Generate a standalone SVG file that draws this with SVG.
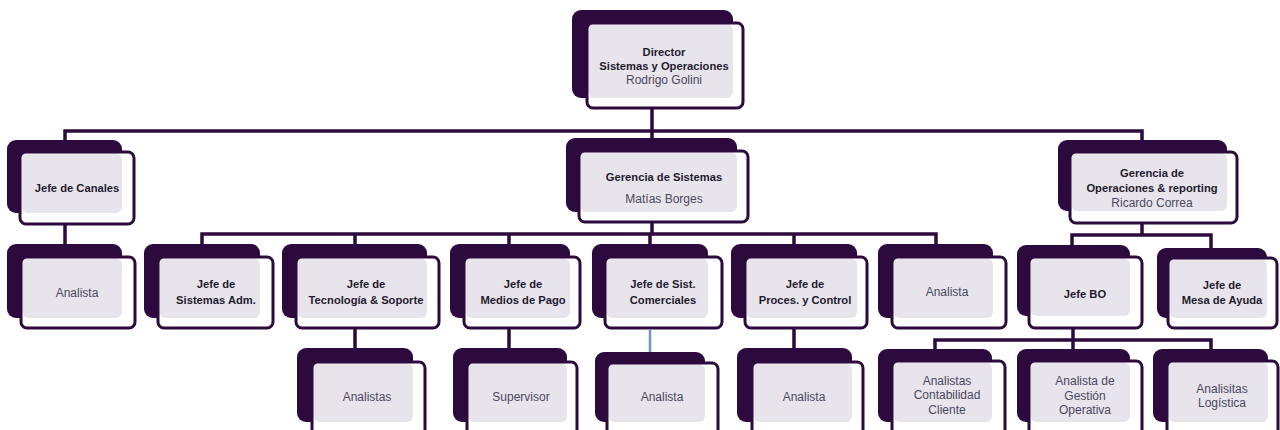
<svg xmlns="http://www.w3.org/2000/svg" width="1280" height="430" viewBox="0 0 1280 430">
<style>
.bk{fill:#2C0A3E}
.fw{fill:#FFFFFF}
.lt{fill:#E8E4EC}
.fs{fill:none;stroke:#2C0A3E;stroke-width:3}
.cn{fill:none;stroke:#2C0A3E;stroke-width:3.5}
.cb{fill:none;stroke:#7395C2;stroke-width:2.5}
text{font-family:"Liberation Sans",Arial,sans-serif;text-anchor:middle}
.b{font-weight:bold;fill:#1E1B2E;font-size:11.2px}
.n{fill:#4A4860;font-size:12px}
</style>
<rect width="1280" height="430" fill="#FFFFFF"/>
<g id="connectors">
<path class="cn" d="M652 108 V131"/>
<path class="cn" d="M65 141 V131 H1142 V141"/>
<path class="cn" d="M652 131 V139"/>
<path class="cn" d="M65 224 V245"/>
<path class="cn" d="M652 222 V234"/>
<path class="cn" d="M202 245 V234 H936 V245"/>
<path class="cn" d="M355 234 V245"/>
<path class="cn" d="M509 234 V245"/>
<path class="cn" d="M650 234 V245"/>
<path class="cn" d="M794 234 V245"/>
<path class="cn" d="M355 328 V349"/>
<path class="cn" d="M509 328 V349"/>
<path class="cb" d="M650 330 V352"/>
<path class="cn" d="M794 328 V349"/>
<path class="cn" d="M1142 223 V235"/>
<path class="cn" d="M1072 246 V235 H1211 V249"/>
<path class="cn" d="M1073 328 V340"/>
<path class="cn" d="M935 350 V340 H1211 V350"/>
<path class="cn" d="M1073 340 V349"/>
</g>
<g id="director">
<rect class="bk" x="572" y="10" width="161" height="88" rx="9"/>
<rect class="fw" x="587" y="23" width="156" height="85" rx="6"/>
<rect class="lt" x="588.5" y="24.5" width="144.5" height="73.5" rx="6"/>
<rect class="fs" x="587" y="23" width="156" height="85" rx="6"/>
<text class="b" x="664" y="56">Director</text>
<text class="b" x="664" y="69.5">Sistemas y Operaciones</text>
<text class="n" x="664" y="84">Rodrigo Golini</text>
</g>
<g id="jefe-canales">
<rect class="bk" x="7" y="140" width="115" height="73" rx="9"/>
<rect class="fw" x="20" y="152" width="114" height="72" rx="6"/>
<rect class="lt" x="21.5" y="153.5" width="100.5" height="59.5" rx="6"/>
<rect class="fs" x="20" y="152" width="114" height="72" rx="6"/>
<text class="b" x="77" y="192">Jefe de Canales</text>
</g>
<g id="gerencia-sistemas">
<rect class="bk" x="566" y="138" width="171" height="74" rx="9"/>
<rect class="fw" x="579" y="151" width="169" height="71" rx="6"/>
<rect class="lt" x="580.5" y="152.5" width="156.5" height="59.5" rx="6"/>
<rect class="fs" x="579" y="151" width="169" height="71" rx="6"/>
<text class="b" x="664" y="181">Gerencia de Sistemas</text>
<text class="n" x="664" y="203">Matías Borges</text>
</g>
<g id="gerencia-operaciones">
<rect class="bk" x="1058" y="140" width="169" height="71" rx="9"/>
<rect class="fw" x="1070" y="152" width="167" height="71" rx="6"/>
<rect class="lt" x="1071.5" y="153.5" width="155.5" height="57.5" rx="6"/>
<rect class="fs" x="1070" y="152" width="167" height="71" rx="6"/>
<text class="b" x="1152" y="177">Gerencia de</text>
<text class="b" x="1152" y="192">Operaciones &amp; reporting</text>
<text class="n" x="1152" y="207">Ricardo Correa</text>
</g>
<g id="analista-canales">
<rect class="bk" x="7" y="244" width="115" height="74" rx="9"/>
<rect class="fw" x="21" y="257" width="114" height="71" rx="6"/>
<rect class="lt" x="22.5" y="258.5" width="99.5" height="59.5" rx="6"/>
<rect class="fs" x="21" y="257" width="114" height="71" rx="6"/>
<text class="n" x="77" y="297">Analista</text>
</g>
<g id="jefe-sistemas-adm">
<rect class="bk" x="144" y="244" width="116" height="74" rx="9"/>
<rect class="fw" x="158" y="257" width="115" height="71" rx="6"/>
<rect class="lt" x="159.5" y="258.5" width="100.5" height="59.5" rx="6"/>
<rect class="fs" x="158" y="257" width="115" height="71" rx="6"/>
<text class="b" x="216" y="288">Jefe de</text>
<text class="b" x="216" y="303.5">Sistemas Adm.</text>
</g>
<g id="jefe-tecnologia">
<rect class="bk" x="282" y="244" width="145" height="74" rx="9"/>
<rect class="fw" x="296" y="257" width="143" height="71" rx="6"/>
<rect class="lt" x="297.5" y="258.5" width="129.5" height="59.5" rx="6"/>
<rect class="fs" x="296" y="257" width="143" height="71" rx="6"/>
<text class="b" x="366" y="288">Jefe de</text>
<text class="b" x="366" y="303.5">Tecnología &amp; Soporte</text>
</g>
<g id="jefe-medios-pago">
<rect class="bk" x="450" y="244" width="120" height="74" rx="9"/>
<rect class="fw" x="464" y="257" width="116" height="71" rx="6"/>
<rect class="lt" x="465.5" y="258.5" width="104.5" height="59.5" rx="6"/>
<rect class="fs" x="464" y="257" width="116" height="71" rx="6"/>
<text class="b" x="523" y="288">Jefe de</text>
<text class="b" x="523" y="303.5">Medios de Pago</text>
</g>
<g id="jefe-sist-comerciales">
<rect class="bk" x="592" y="244" width="116" height="74" rx="9"/>
<rect class="fw" x="605" y="257" width="117" height="71" rx="6"/>
<rect class="lt" x="606.5" y="258.5" width="101.5" height="59.5" rx="6"/>
<rect class="fs" x="605" y="257" width="117" height="71" rx="6"/>
<text class="b" x="663" y="288">Jefe de Sist.</text>
<text class="b" x="663" y="303.5">Comerciales</text>
</g>
<g id="jefe-proces-control">
<rect class="bk" x="731" y="244" width="126" height="74" rx="9"/>
<rect class="fw" x="745" y="257" width="122" height="71" rx="6"/>
<rect class="lt" x="746.5" y="258.5" width="110.5" height="59.5" rx="6"/>
<rect class="fs" x="745" y="257" width="122" height="71" rx="6"/>
<text class="b" x="805" y="288">Jefe de</text>
<text class="b" x="805" y="303.5">Proces. y Control</text>
</g>
<g id="analista-sistemas">
<rect class="bk" x="878" y="244" width="115" height="74" rx="9"/>
<rect class="fw" x="892" y="257" width="114" height="71" rx="6"/>
<rect class="lt" x="893.5" y="258.5" width="99.5" height="59.5" rx="6"/>
<rect class="fs" x="892" y="257" width="114" height="71" rx="6"/>
<text class="n" x="947" y="296">Analista</text>
</g>
<g id="jefe-bo">
<rect class="bk" x="1017" y="245" width="113" height="71" rx="9"/>
<rect class="fw" x="1029" y="257" width="113" height="71" rx="6"/>
<rect class="lt" x="1030.5" y="258.5" width="99.5" height="57.5" rx="6"/>
<rect class="fs" x="1029" y="257" width="113" height="71" rx="6"/>
<text class="b" x="1085" y="298">Jefe BO</text>
</g>
<g id="jefe-mesa-ayuda">
<rect class="bk" x="1157" y="248" width="110" height="70" rx="9"/>
<rect class="fw" x="1168" y="258" width="109" height="70" rx="6"/>
<rect class="lt" x="1169.5" y="259.5" width="97.5" height="58.5" rx="6"/>
<rect class="fs" x="1168" y="258" width="109" height="70" rx="6"/>
<text class="b" x="1222" y="289">Jefe de</text>
<text class="b" x="1222" y="304">Mesa de Ayuda</text>
</g>
<g id="analistas-tecnologia">
<rect class="bk" x="297" y="348" width="116" height="74" rx="9"/>
<rect class="fw" x="312" y="362" width="113" height="76" rx="6"/>
<rect class="lt" x="313.5" y="363.5" width="99.5" height="58.5" rx="6"/>
<rect class="fs" x="312" y="362" width="113" height="76" rx="6"/>
<text class="n" x="367" y="401">Analistas</text>
</g>
<g id="supervisor">
<rect class="bk" x="453" y="348" width="114" height="74" rx="9"/>
<rect class="fw" x="467" y="362" width="110" height="76" rx="6"/>
<rect class="lt" x="468.5" y="363.5" width="98.5" height="58.5" rx="6"/>
<rect class="fs" x="467" y="362" width="110" height="76" rx="6"/>
<text class="n" x="521" y="401">Supervisor</text>
</g>
<g id="analista-comerciales">
<rect class="bk" x="595" y="352" width="110" height="70" rx="9"/>
<rect class="fw" x="607" y="363" width="111" height="75" rx="6"/>
<rect class="lt" x="608.5" y="364.5" width="96.5" height="57.5" rx="6"/>
<rect class="fs" x="607" y="363" width="111" height="75" rx="6"/>
<text class="n" x="662" y="401">Analista</text>
</g>
<g id="analista-proces">
<rect class="bk" x="737" y="348" width="115" height="74" rx="9"/>
<rect class="fw" x="752" y="362" width="111" height="76" rx="6"/>
<rect class="lt" x="753.5" y="363.5" width="98.5" height="58.5" rx="6"/>
<rect class="fs" x="752" y="362" width="111" height="76" rx="6"/>
<text class="n" x="804" y="401">Analista</text>
</g>
<g id="analistas-contabilidad">
<rect class="bk" x="878" y="349" width="114" height="73" rx="9"/>
<rect class="fw" x="892" y="361" width="113" height="77" rx="6"/>
<rect class="lt" x="893.5" y="362.5" width="98.5" height="59.5" rx="6"/>
<rect class="fs" x="892" y="361" width="113" height="77" rx="6"/>
<text class="n" x="947" y="385">Analistas</text>
<text class="n" x="947" y="399">Contabilidad</text>
<text class="n" x="947" y="414">Cliente</text>
</g>
<g id="analista-gestion">
<rect class="bk" x="1017" y="349" width="113" height="73" rx="9"/>
<rect class="fw" x="1029" y="361" width="113" height="77" rx="6"/>
<rect class="lt" x="1030.5" y="362.5" width="99.5" height="59.5" rx="6"/>
<rect class="fs" x="1029" y="361" width="113" height="77" rx="6"/>
<text class="n" x="1085" y="385">Analista de</text>
<text class="n" x="1085" y="399.5">Gestión</text>
<text class="n" x="1085" y="414">Operativa</text>
</g>
<g id="analistas-logistica">
<rect class="bk" x="1153" y="349" width="115" height="73" rx="9"/>
<rect class="fw" x="1167" y="361" width="111" height="77" rx="6"/>
<rect class="lt" x="1168.5" y="362.5" width="99.5" height="59.5" rx="6"/>
<rect class="fs" x="1167" y="361" width="111" height="77" rx="6"/>
<text class="n" x="1222" y="393">Analisitas</text>
<text class="n" x="1222" y="407">Logística</text>
</g>
</svg>
